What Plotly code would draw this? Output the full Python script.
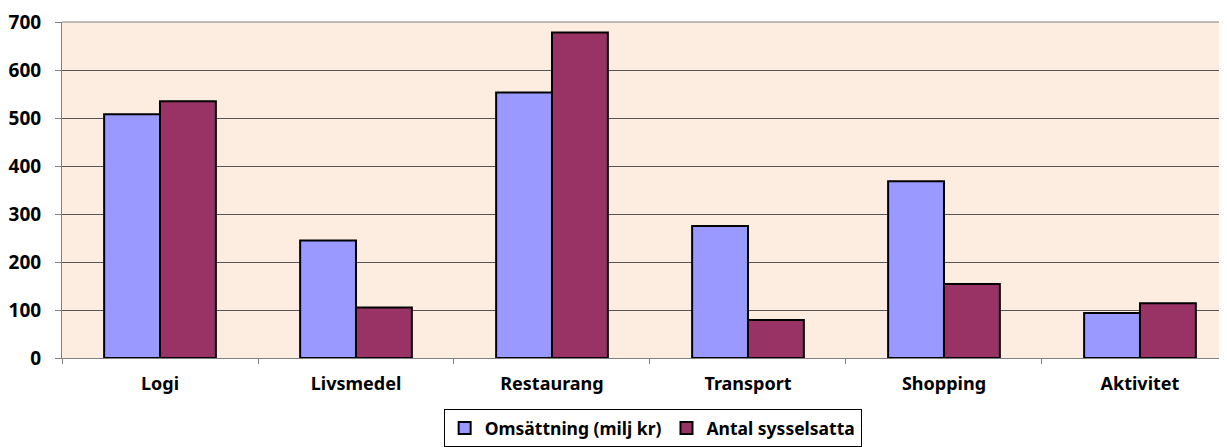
import plotly.graph_objects as go

categories = ["Logi", "Livsmedel", "Restaurang", "Transport", "Shopping", "Aktivitet"]
omsattning = [508, 245, 553, 275, 368, 94]
sysselsatta = [535, 105, 678, 79, 154, 114]
series_names = ["Omsättning (milj kr)", "Antal sysselsatta"]

font_family = "Noto Sans, DejaVu Sans, sans-serif"

fig = go.Figure()
fig.add_trace(go.Bar(x=categories, y=omsattning, name=series_names[0],
                     marker=dict(color="#9999FF", line=dict(color="black", width=2))))
fig.add_trace(go.Bar(x=categories, y=sysselsatta, name=series_names[1],
                     marker=dict(color="#993366", line=dict(color="black", width=2))))

# page body has an 8px margin, so the figure is sized/offset to compensate
fig.update_layout(
    width=1219, height=439,
    margin=dict(l=54, r=0, t=14, b=88),
    paper_bgcolor="white",
    plot_bgcolor="#FDEDE0",
    barmode="group",
    bargap=0.43,
    bargroupgap=0,
    font=dict(family=font_family, size=18, color="black"),
    showlegend=True,
    legend=dict(orientation="h", x=0.507, xanchor="center", y=-0.151, yanchor="top",
                bgcolor="white", bordercolor="black", borderwidth=1,
                font=dict(family=font_family, size=17.5, color="black", weight="bold"),
                itemwidth=30, traceorder="normal"),
    xaxis=dict(range=[-0.5, 5.444], showline=True, linecolor="#808080", linewidth=1,
               ticks="outside", ticklen=5, tickcolor="#808080",
               tickson="boundaries", ticklabelstandoff=9,
               tickfont=dict(family=font_family, size=18, weight="bold"),
               mirror=False),
    yaxis=dict(range=[0, 700], dtick=100, showline=True, linecolor="#808080", linewidth=1,
               ticks="outside", ticklen=6, tickcolor="#808080",
               gridcolor="#555555", gridwidth=1, ticklabelstandoff=10,
               tickfont=dict(family=font_family, size=19, weight="bold"),
               zeroline=False),
)
fig.add_shape(type="line", xref="paper", yref="paper", x0=0, x1=1, y0=1, y1=1,
              line=dict(color="#808080", width=1))

fig.write_html("out.html")
